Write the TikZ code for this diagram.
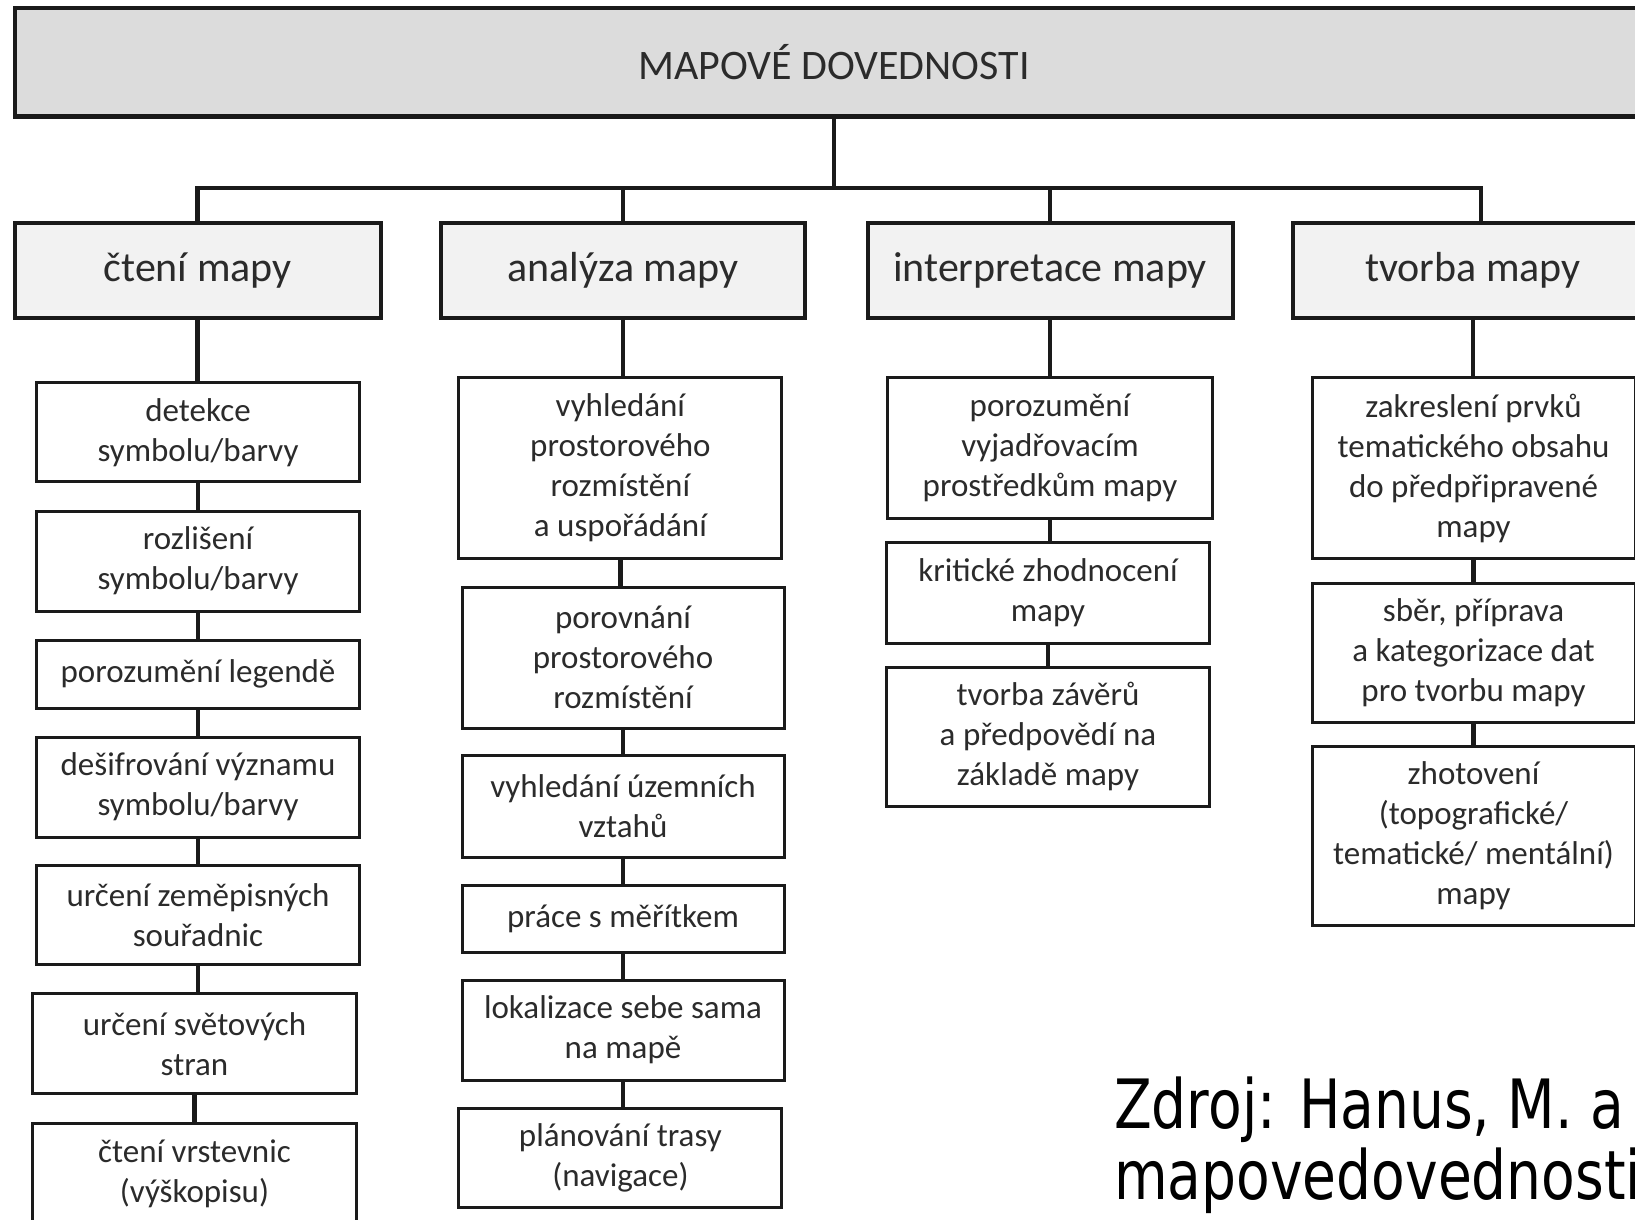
\documentclass[tikz,border=0pt]{standalone}
\usepackage{fontspec}
\setmainfont{Carlito}
\newfontfamily\zdrojfont[FakeStretch=0.81]{DejaVu Sans}
\definecolor{topfill}{HTML}{DCDCDC}
\definecolor{lonefill}{HTML}{F2F2F2}
\definecolor{txt}{HTML}{2B2B2B}
\definecolor{edge}{HTML}{1A1A1A}
\tikzset{
  topbox/.style={draw=edge, line width=4.5pt, fill=topfill, inner sep=0pt, text=txt, font=\fontsize{42}{50}\selectfont},
  lonebox/.style={draw=edge, line width=4pt, fill=lonefill, inner sep=0pt, text=txt, font=\fontsize{42}{50}\selectfont},
  ltwobox/.style={draw=edge, line width=3pt, fill=white, inner sep=0pt, align=center, text=txt, font=\fontsize{33}{40}\selectfont},
  conn/.style={draw=edge, line width=4.5pt},
  zdroj/.style={anchor=base west, inner sep=0pt, text=black, font=\zdrojfont\fontsize{68}{71}\selectfont}
}
\begin{document}
\begin{tikzpicture}[x=1pt,y=-1pt]
\clip (0,0) rectangle (1635,1220);
\fill[white] (0,0) rectangle (1635,1220);

\coordinate (bus) at (0,188);
\coordinate (d4) at (1481,188);

% top
\node[topbox, minimum width=1638, minimum height=108.5] (top) at (834,62.5) {MAPOVÉ DOVEDNOSTI};

% level 1
\node[lonebox, minimum width=366, minimum height=95] (L1) at (197.6,270.5) {čtení mapy};
\node[lonebox, minimum width=364, minimum height=95] (L2) at (623,270.5) {analýza mapy};
\node[lonebox, minimum width=365, minimum height=95] (L3) at (1050,270.5) {interpretace mapy};
\node[lonebox, minimum width=360, minimum height=95] (L4) at (1473,270.5) {tvorba mapy};

% column 1
\node[ltwobox, minimum width=323, minimum height=99] (a1) at (198,432.2) {detekce\\symbolu/barvy};
\node[ltwobox, minimum width=323, minimum height=100] (a2) at (198,561) {rozlišení\\symbolu/barvy};
\node[ltwobox, minimum width=323, minimum height=68] (a3) at (198,674) {porozumění legendě};
\node[ltwobox, minimum width=323, minimum height=100] (a4) at (198,787) {dešifrování významu\\symbolu/barvy};
\node[ltwobox, minimum width=323, minimum height=99] (a5) at (198,915) {určení zeměpisných\\souřadnic};
\node[ltwobox, minimum width=324, minimum height=100] (a6) at (194.5,1043.7) {určení světových\\stran};
\node[ltwobox, minimum width=324, minimum height=101] (a7) at (194.5,1173.5) {čtení vrstevnic\\(výškopisu)};

% column 2
\node[ltwobox, minimum width=323, minimum height=181.5] (b1) at (620.4,468) {vyhledání\\prostorového\\rozmístění\\a uspořádání};
\node[ltwobox, minimum width=322, minimum height=141] (b2) at (623,657.5) {porovnání\\prostorového\\rozmístění};
\node[ltwobox, minimum width=322, minimum height=102] (b3) at (623,806) {vyhledání územních\\vztahů};
\node[ltwobox, minimum width=322, minimum height=67] (b4) at (623,918.5) {práce s měřítkem};
\node[ltwobox, minimum width=322, minimum height=100] (b5) at (623,1030) {lokalizace sebe sama\\na mapě};
\node[ltwobox, minimum width=323, minimum height=98.5] (b6) at (620.4,1158) {plánování trasy\\(navigace)};

% column 3
\node[ltwobox, minimum width=325, minimum height=141.5] (c1) at (1050,448) {porozumění\\vyjadřovacím\\prostředkům mapy};
\node[ltwobox, minimum width=323.5, minimum height=101] (c2) at (1048,592.5) {kritické zhodnocení\\mapy};
\node[ltwobox, minimum width=323.5, minimum height=139] (c3) at (1048,736.5) {tvorba závěrů\\a předpovědí na\\základě mapy};

% column 4
\node[ltwobox, minimum width=323, minimum height=181.5] (e1) at (1473.5,468) {zakreslení prvků\\tematického obsahu\\do předpřipravené\\mapy};
\node[ltwobox, minimum width=323, minimum height=138.6] (e2) at (1473.5,653) {sběr, příprava\\a kategorizace dat\\pro tvorbu mapy};
\node[ltwobox, minimum width=323, minimum height=179.5] (e3) at (1473.5,836) {zhotovení\\(topografické/\\tematické/ mentální)\\mapy};

% connectors
\draw[conn] (top.south) -- (top.south |- bus);
\draw[conn, line cap=rect] (L1.north |- bus) -- (d4);
\draw[conn] (L1.north |- bus) -- (L1.north);
\draw[conn] (L2.north |- bus) -- (L2.north);
\draw[conn] (L3.north |- bus) -- (L3.north);
\draw[conn] (d4) -- (d4 |- L4.north);

\draw[conn] (L1.south) -- (L1.south |- a1.north);
\draw[conn] (a1.south) -- (a1.south |- a2.north);
\draw[conn] (a2.south) -- (a2.south |- a3.north);
\draw[conn] (a3.south) -- (a3.south |- a4.north);
\draw[conn] (a4.south) -- (a4.south |- a5.north);
\draw[conn] (a5.south) -- (a5.south |- a6.north);
\draw[conn] (a6.south) -- (a6.south |- a7.north);

\draw[conn] (L2.south) -- (L2.south |- b1.north);
\draw[conn] (b1.south) -- (b1.south |- b2.north);
\draw[conn] (b2.south) -- (b2.south |- b3.north);
\draw[conn] (b3.south) -- (b3.south |- b4.north);
\draw[conn] (b4.south) -- (b4.south |- b5.north);
\draw[conn] (b5.south) -- (b5.south |- b6.north);

\draw[conn] (L3.south) -- (L3.south |- c1.north);
\draw[conn] (c1.south) -- (c1.south |- c2.north);
\draw[conn] (c2.south) -- (c2.south |- c3.north);

\draw[conn] (L4.south) -- (L4.south |- e1.north);
\draw[conn] (e1.south) -- (e1.south |- e2.north);
\draw[conn] (e2.south) -- (e2.south |- e3.north);

% source
\node[zdroj] (z1) at (1114,1128) {Zdroj: Hanus, M. a};
\node[zdroj] (z2) at (1114,1199) {mapovedovednosti};
\end{tikzpicture}
\end{document}
